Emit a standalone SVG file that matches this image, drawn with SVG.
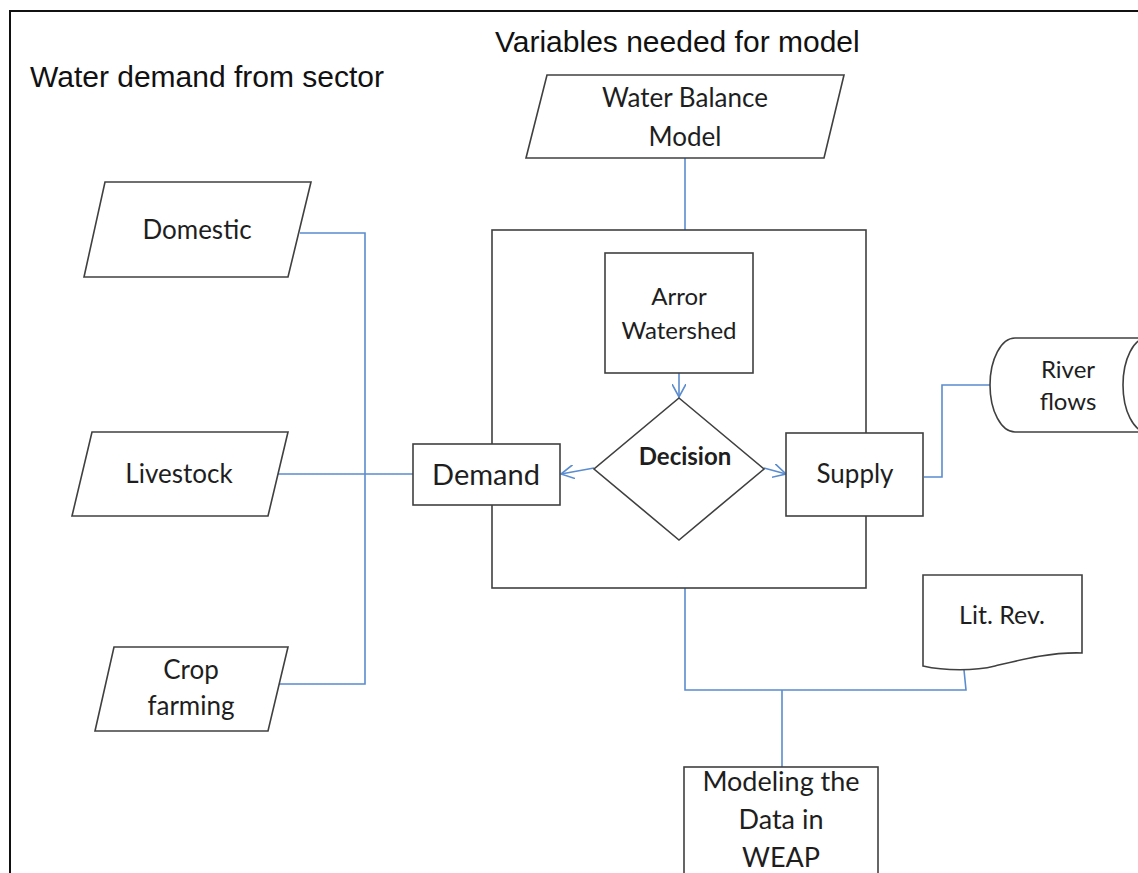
<svg xmlns="http://www.w3.org/2000/svg" width="1138" height="873" viewBox="0 0 1138 873">
<style>
.shape{fill:#fff;stroke:#404040;stroke-width:1.6}
.frame{fill:none;stroke:#111;stroke-width:2}
.conn{fill:none;stroke:#5a8ccf;stroke-width:1.6}
.title{font-family:"Liberation Sans",Arial,sans-serif;font-size:30px;fill:#111}
.lbl{font-family:Lato,"Open Sans",sans-serif;fill:#1e1e1e;text-anchor:middle}
</style>
<defs>
<marker id="arr" viewBox="0 0 14 14" refX="13" refY="7" markerWidth="14" markerHeight="14" markerUnits="userSpaceOnUse" orient="auto">
<path d="M0,0 L13,7 L0,14" fill="none" stroke="#5a8ccf" stroke-width="1.6"/>
</marker>
</defs>
<rect width="1138" height="873" fill="#fff"/>
<rect class="frame" x="10" y="11" width="1200" height="900"/>
<text class="title" x="30" y="87">Water demand from sector</text>
<text class="title" x="495" y="52">Variables needed for model</text>

<g id="connectors">
<path class="conn" d="M300,233 H365 V684 H279"/>
<path class="conn" d="M278,474 H413"/>
<path class="conn" d="M685,158 V230"/>
<path class="conn" d="M679,373 V397" marker-end="url(#arr)"/>
<path class="conn" d="M594,468 L561,474" marker-end="url(#arr)"/>
<path class="conn" d="M764,468 L786,474" marker-end="url(#arr)"/>
<path class="conn" d="M924,477 H942 V385 H990"/>
<path class="conn" d="M685,588 V690 H966 L964,670"/>
<path class="conn" d="M782,690 V767"/>
</g>

<g id="container">
<rect class="shape" x="492" y="230" width="374" height="358" style="fill:none"/>
</g>

<g id="water-balance">
<path class="shape" d="M547,75 H844 L824,158 H526 Z"/>
<text class="lbl" x="685" y="107" font-size="26">Water Balance</text>
<text class="lbl" x="685" y="146" font-size="26">Model</text>
</g>

<g id="domestic">
<path class="shape" d="M105,182 H311 L288,277 H84 Z"/>
<text class="lbl" x="197" y="239" font-size="26">Domestic</text>
</g>

<g id="livestock">
<path class="shape" d="M92,432 H288 L268,516 H72 Z"/>
<text class="lbl" x="179" y="483" font-size="26">Livestock</text>
</g>

<g id="crop">
<path class="shape" d="M114,647 H288 L268,731 H95 Z"/>
<text class="lbl" x="191" y="679" font-size="26">Crop</text>
<text class="lbl" x="191" y="715" font-size="26">farming</text>
</g>

<g id="arror">
<rect class="shape" x="605" y="253" width="148" height="120"/>
<text class="lbl" x="679" y="305" font-size="24">Arror</text>
<text class="lbl" x="679" y="339" font-size="24">Watershed</text>
</g>

<g id="decision">
<path class="shape" d="M679,398 L764,469 L679,540 L594,469 Z"/>
<text class="lbl" x="685" y="465" font-size="24" font-weight="bold">Decision</text>
</g>

<g id="demand">
<rect class="shape" x="413" y="444" width="147" height="61"/>
<text class="lbl" x="486" y="485" font-size="29">Demand</text>
</g>

<g id="supply">
<rect class="shape" x="786" y="433" width="137" height="83"/>
<text class="lbl" x="855" y="483" font-size="26">Supply</text>
</g>

<g id="river">
<path class="shape" d="M1015,338 H1147 A24,47 0 0 1 1147,432 H1015 A25,47 0 0 1 1015,338 Z"/>
<ellipse class="shape" cx="1147" cy="385" rx="24" ry="47"/>
<text class="lbl" x="1068" y="378" font-size="24">River</text>
<text class="lbl" x="1068" y="410" font-size="24">flows</text>
</g>

<g id="litrev">
<path class="shape" d="M923,575 H1082 V653 C1050,652 1020,660 995,666 C975,671 945,671 923,666 Z"/>
<text class="lbl" x="1002" y="624" font-size="25">Lit. Rev.</text>
</g>

<g id="modeling">
<rect class="shape" x="684" y="767" width="194" height="130"/>
<text class="lbl" x="781" y="791" font-size="27">Modeling the</text>
<text class="lbl" x="781" y="829" font-size="27">Data in</text>
<text class="lbl" x="781" y="867" font-size="27">WEAP</text>
</g>
</svg>
